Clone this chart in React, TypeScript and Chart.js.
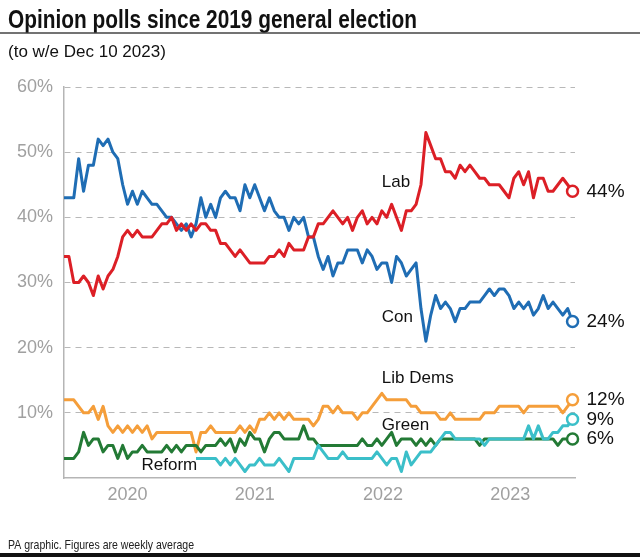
import React, { useEffect, useRef } from "react";
import { Chart, registerables } from "chart.js";

Chart.register(...registerables);

// ---- Text ----
const TITLE = "Opinion polls since 2019 general election";
const SUBTITLE = "(to w/e Dec 10 2023)";
const FOOTER = "PA graphic. Figures are weekly average";

// ---- Time axis: weeks since the Dec 2019 general election, sampled fortnightly ----
const SAMPLE_COUNT = 105;
const WEEKS = Array.from({ length: SAMPLE_COUNT }, (_, i) => i * 2);
const YEAR_LABELS = ["2020", "2021", "2022", "2023"];
const YEAR_TICK_WEEKS = [26, 78, 130.5, 182.5];
const Y_TICKS = [0, 10, 20, 30, 40, 50, 60];

// ---- Series values (%) ----
const LAB = [
  34, 34, 30, 30, 31, 30, 28, 31, 29, 31,
  32, 34, 37, 38, 37, 38, 37, 37, 37, 38,
  39, 39, 40, 38, 39, 38, 39, 38, 39, 39,
  38, 38, 36, 36, 35, 34, 35, 34, 33, 33,
  33, 33, 34, 34, 35, 34, 36, 35, 35, 35,
  37, 37, 39, 39, 40, 41, 40, 39, 40, 38,
  40, 41, 39, 40, 39, 41, 40, 42, 40, 38,
  41, 41, 42, 45, 53, 51, 49, 49, 47, 47,
  46, 48, 47, 48, 47, 46, 46, 45, 45, 45,
  44, 43, 46, 47, 45, 47, 43, 46, 46, 44,
  44, 45, 46, 45, 44,
];
const CON = [
  43, 43, 43, 49, 44, 48, 48, 52, 51, 52,
  50, 49, 45, 42, 44, 42, 44, 43, 42, 42,
  41, 40, 40, 39, 38, 39, 37, 39, 43, 40,
  42, 40, 43, 44, 43, 43, 41, 45, 43, 45,
  43, 41, 43, 41, 40, 40, 38, 40, 39, 40,
  37, 37, 34, 32, 34, 31, 33, 33, 35, 35,
  35, 33, 35, 34, 32, 33, 33, 30, 34, 33,
  31, 32, 33, 26, 21, 25, 28, 26, 27, 26,
  24, 26, 26, 27, 27, 27, 28, 29, 28, 29,
  29, 28, 26, 27, 26, 27, 25, 26, 28, 26,
  27, 26, 25, 26, 24,
];
const LIB_DEMS = [
  12, 12, 12, 11, 10, 10, 11, 9, 11, 8,
  7, 8, 7, 8, 7, 8, 7, 8, 6, 7,
  7, 7, 7, 7, 7, 7, 7, 4, 7, 7,
  8, 7, 7, 7, 7, 7, 8, 7, 8, 7,
  9, 9, 10, 9, 10, 9, 10, 9, 9, 9,
  9, 8, 9, 11, 11, 10, 11, 10, 10, 10,
  9, 10, 10, 11, 12, 13, 12, 12, 12, 12,
  12, 11, 11, 10, 10, 10, 10, 9, 9, 10,
  9, 9, 9, 9, 9, 9, 10, 10, 10, 11,
  11, 11, 11, 11, 10, 11, 11, 11, 11, 11,
  11, 11, 10, 11, 12,
];
const GREEN = [
  3, 3, 3, 4, 7, 5, 6, 6, 4, 5,
  5, 3, 5, 3, 4, 4, 5, 4, 4, 4,
  4, 5, 4, 5, 4, 5, 5, 5, 4, 5,
  5, 5, 6, 5, 6, 4, 6, 5, 7, 6,
  6, 4, 6, 7, 7, 6, 6, 6, 6, 8,
  6, 6, 5, 5, 5, 5, 5, 5, 5, 5,
  5, 6, 5, 5, 6, 5, 6, 7, 5, 6,
  6, 6, 5, 6, 5, 6, 5, 6, 6, 6,
  6, 6, 6, 6, 6, 5, 6, 6, 6, 6,
  6, 6, 6, 6, 6, 6, 6, 6, 6, 6,
  6, 5, 6, 6, 6,
];
const REFORM = [
  null, null, null, null, null, null, null, null, null, null,
  null, null, null, null, null, null, null, null, null, null,
  null, null, null, null, null, null, null, 3, 3, 3,
  3, 3, 2, 3, 2, 3, 2, 1, 2, 2,
  3, 2, 2, 2, 3, 2, 1, 3, 3, 3,
  3, 3, 5, 4, 3, 3, 3, 4, 3, 3,
  3, 3, 3, 3, 4, 3, 2, 3, 3, 1,
  4, 2, 3, 4, 4, 4, 5, 6, 7, 7,
  6, 6, 6, 6, 6, 6, 5, 6, 6, 6,
  6, 6, 6, 6, 6, 8, 6, 8, 6, 6,
  7, 7, 8, 8, 9,
];

const SERIES_NAMES = ["Lab", "Con", "Lib Dems", "Green", "Reform"];
const SERIES_VALUES = [LAB, CON, LIB_DEMS, GREEN, REFORM];
const SERIES_COLORS = ["#dc1f26", "#1f6db4", "#f59e3a", "#237a35", "#3bbfc9"];
const SERIES_ORDER = [0, 1, 4, 3, 2];

// in-chart name labels, anchored in data units (week, %)
const NAME_LABEL_WEEKS = [130, 130, 130, 130, 54.5];
const NAME_LABEL_VALUES = [45.3, 24.6, 15.3, 8.1, 2.0];
const NAME_LABEL_ALIGN = ["left", "left", "left", "left", "right"];

const FONT = '"Liberation Sans", Arial, sans-serif';

const textPlugin = {
  id: "paTexts",
  beforeDraw(chart: any) {
    const { ctx, width, height } = chart;
    ctx.save();
    ctx.fillStyle = "#ffffff";
    ctx.fillRect(0, 0, width, height);
    ctx.restore();
  },
  afterDraw(chart: any) {
    const { ctx } = chart;
    const xs = chart.scales.x;
    const ys = chart.scales.y;
    ctx.save();
    ctx.fillStyle = "#111111";
    ctx.textAlign = "left";
    ctx.textBaseline = "alphabetic";
    ctx.font = `bold 25px ${FONT}`;
    ctx.fillText(TITLE, 8, 28, 409);

    ctx.strokeStyle = "#444444";
    ctx.lineWidth = 1.5;
    ctx.beginPath();
    ctx.moveTo(0, 33);
    ctx.lineTo(640, 33);
    ctx.stroke();

    ctx.font = `17px ${FONT}`;
    ctx.fillText(SUBTITLE, 8, 57, 158);

    ctx.font = `13px ${FONT}`;
    ctx.fillStyle = "#222222";
    ctx.fillText(FOOTER, 8, 549, 186);
    ctx.fillStyle = "#111111";
    ctx.fillRect(0, 553, 640, 4);

    // series name labels
    ctx.font = `17px ${FONT}`;
    ctx.textBaseline = "middle";
    SERIES_NAMES.forEach((name, i) => {
      ctx.textAlign = NAME_LABEL_ALIGN[i];
      ctx.fillText(
        name,
        xs.getPixelForValue(NAME_LABEL_WEEKS[i]),
        ys.getPixelForValue(NAME_LABEL_VALUES[i])
      );
    });

    // end value labels
    ctx.font = `19px ${FONT}`;
    ctx.textAlign = "left";
    SERIES_VALUES.forEach((vals) => {
      const last = vals.length - 1;
      const v = vals[last] as number;
      ctx.fillText(
        `${v}%`,
        xs.getPixelForValue(WEEKS[last]) + 14,
        ys.getPixelForValue(v)
      );
    });
    ctx.restore();
  },
};

export default function App() {
  const ref = useRef<HTMLCanvasElement | null>(null);
  useEffect(() => {
    if (!ref.current) return;
    const datasets = SERIES_VALUES.map((vals, i) => ({
      label: SERIES_NAMES[i],
      data: vals.map((v, j) => ({ x: WEEKS[j], y: v })),
      borderColor: SERIES_COLORS[i],
      backgroundColor: SERIES_COLORS[i],
      borderWidth: 3,
      borderJoinStyle: "round" as const,
      tension: 0,
      spanGaps: false,
      clip: false as const,
      order: SERIES_ORDER[i],
      pointRadius: (c: any) => (c.dataIndex === vals.length - 1 ? 5.5 : 0),
      pointBackgroundColor: "#ffffff",
      pointBorderColor: SERIES_COLORS[i],
      pointBorderWidth: 2.5,
      pointHoverRadius: 0,
    }));
    const chart = new Chart(ref.current, {
      type: "line",
      data: { datasets },
      plugins: [textPlugin],
      options: {
        responsive: false,
        animation: false,
        events: [],
        layout: { padding: { left: 0, right: 65, top: 87, bottom: 0 } },
        plugins: { legend: { display: false }, tooltip: { enabled: false } },
        scales: {
          x: {
            type: "linear",
            min: 0,
            max: 209,
            afterFit: (s: any) => {
              s.height = 81;
            },
            afterBuildTicks: (s: any) => {
              s.ticks = YEAR_TICK_WEEKS.map((v) => ({ value: v }));
            },
            ticks: {
              autoSkip: false,
              maxRotation: 0,
              padding: 6,
              color: "#a0a0a0",
              font: { family: FONT, size: 18 },
              callback: (_v: any, i: number) => YEAR_LABELS[i],
            },
            grid: { display: false, drawTicks: false },
            border: { display: true, color: "#b5b5b5", width: 1.5 },
          },
          y: {
            min: 0,
            max: 60,
            afterFit: (s: any) => {
              s.width = 64;
            },
            afterBuildTicks: (s: any) => {
              s.ticks = Y_TICKS.map((v) => ({ value: v }));
            },
            ticks: {
              padding: 11,
              color: "#a0a0a0",
              font: { family: FONT, size: 18 },
              callback: (v: any) => (v === 0 ? "" : `${v}%`),
            },
            grid: {
              drawTicks: false,
              lineWidth: 1,
              color: (c: any) => (c.tick && c.tick.value === 0 ? "rgba(0,0,0,0)" : "#b8b8b8"),
            },
            border: { display: true, color: "#b5b5b5", width: 1.5, dash: [6, 5] },
          },
        },
      },
    });
    return () => chart.destroy();
  }, []);
  return (
    <div style={{ position: "fixed", left: 0, top: 0, width: 640, height: 559, background: "#fff" }}>
      <canvas ref={ref} width={640} height={559} style={{ width: 640, height: 559, display: "block" }} />
    </div>
  );
}
